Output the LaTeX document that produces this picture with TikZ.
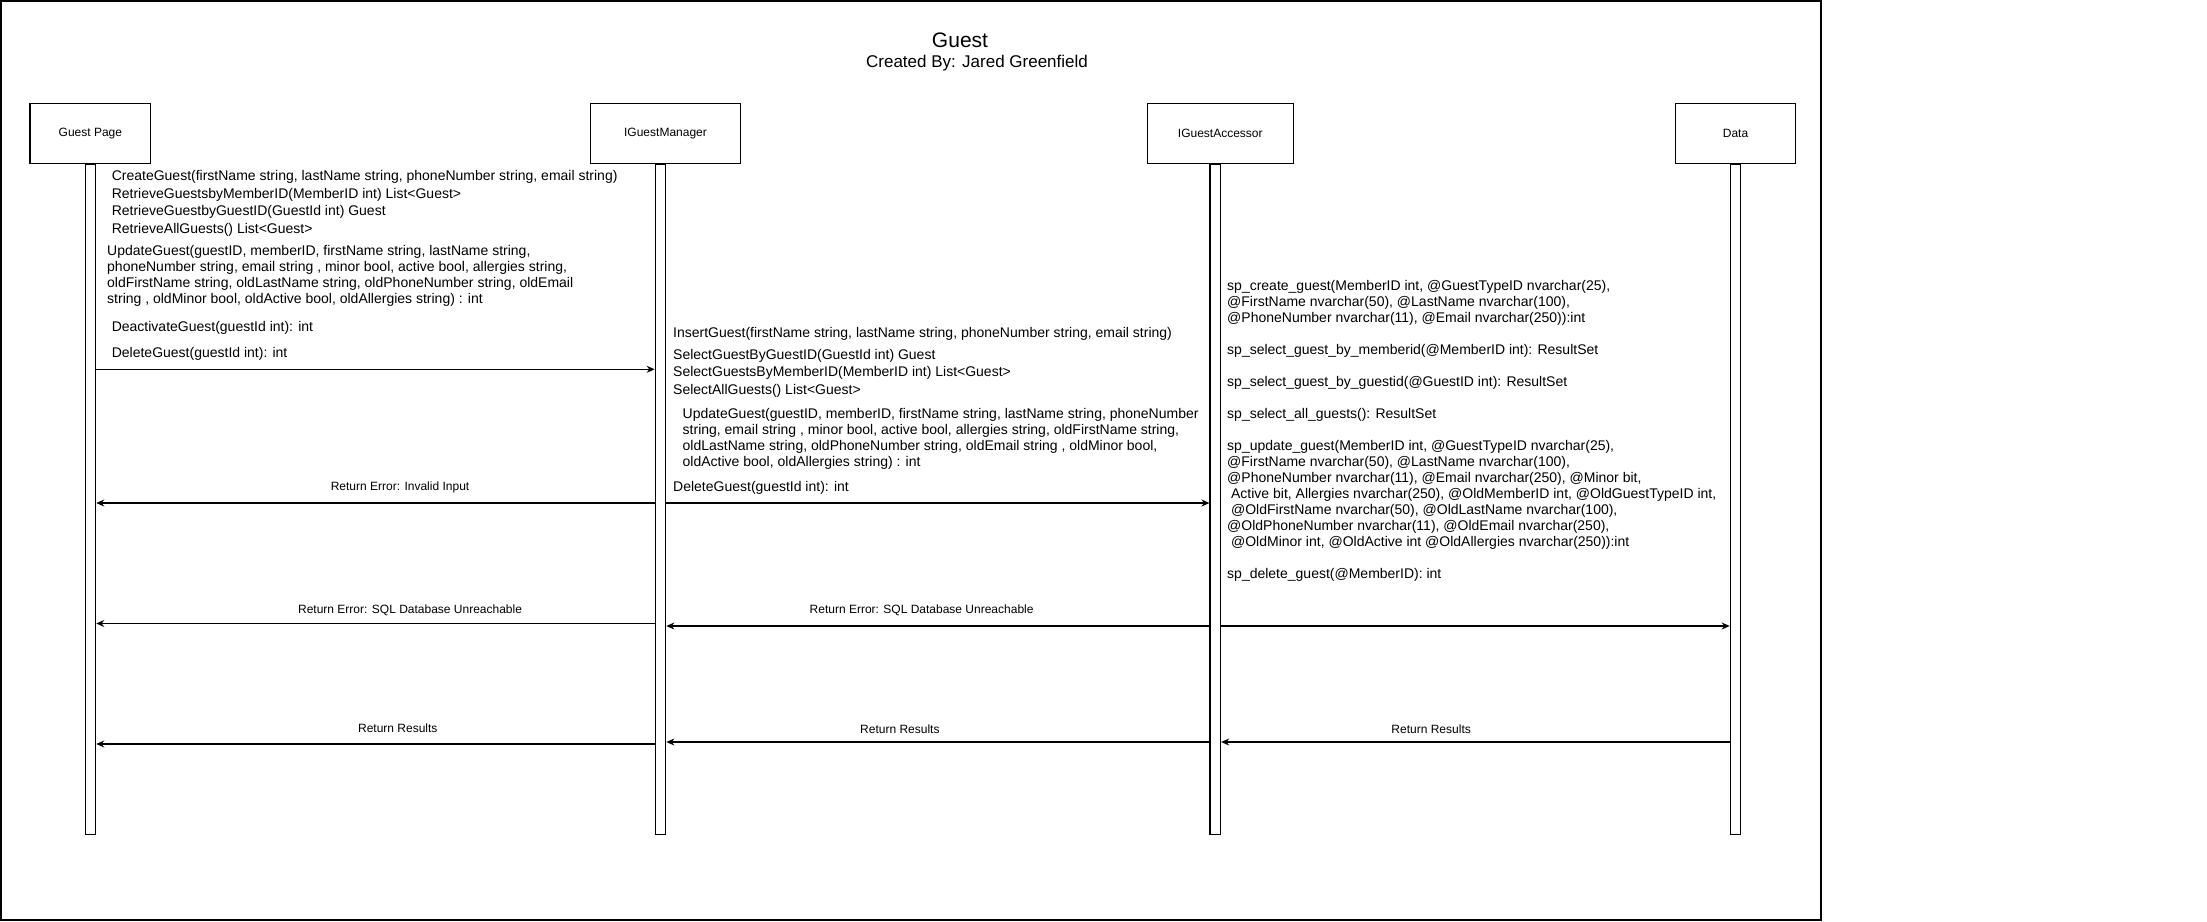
\documentclass[tikz,border=0pt]{standalone}
\usepackage{fontspec}
\setmainfont{Liberation Sans}
\usetikzlibrary{positioning,arrows.meta}

\begin{document}
\begin{tikzpicture}[
		x = 1pt, y = -1pt, % one unit per pixel, y going down
		> = {Stealth[length=8pt,width=7pt]}, % arrow head style
		actor/.style = {draw, line width=1.2pt, minimum height=60pt, font=\fontsize{12}{14}\selectfont},
		life/.style = {draw, line width=1.2pt, minimum width=10.5pt, minimum height=670pt, inner sep=0pt},
		call/.style = {anchor=base west, align=left, inner sep=0pt, font=\fontsize{14}{16}\selectfont}, % base = last line
		list/.style = {call, font=\fontsize{14}{17.5}\selectfont},
		msg/.style = {->, line width=1.2pt},
		lbl/.style = {inner sep=2pt, font=\fontsize{12}{14}\selectfont}
		]
		
		\useasboundingbox (0,0) rectangle (2207,921);
		\draw[line width=1.6pt] (0.8,0.8) rectangle (1821,920);
		
		\node[font=\fontsize{21}{24}\selectfont] (title) at (960,40) {Guest};
		\node[font=\fontsize{17}{20}\selectfont] (author) at (977,63) {Created By: Jared Greenfield};
		
		% participants and lifelines
		\node[actor, minimum width=120.7pt] (gp) at (90.4,133.3) {Guest Page};
		\node[actor, minimum width=150.7pt] (mgr) at (665.5,133.3) {IGuestManager};
		\node[actor, minimum width=146pt] (acc) at (1220.3,133.3) {IGuestAccessor};
		\node[actor, minimum width=120.4pt] (dat) at (1735.5,133.3) {Data};
		
		\node[life, below=0pt of gp] (gpL) {};
		\node[life, below=0pt of mgr, xshift=-5pt] (mgrL) {};
		\node[life, below=0pt of acc, xshift=-5pt] (accL) {};
		\node[life, below=0pt of dat] (datL) {};
		
		% calls from the page
		\node[list] (pageGet) at (111.6,233.2) {CreateGuest(firstName string, lastName string, phoneNumber string, email string)\\
			RetrieveGuestsbyMemberID(MemberID int) List<Guest>\\
			RetrieveGuestbyGuestID(GuestId int) Guest\\
			RetrieveAllGuests() List<Guest>};
		\node[call] (pageUpd) at (107,303.7) {UpdateGuest(guestID, memberID, firstName string, lastName string,\\
			phoneNumber string, email string , minor bool, active bool, allergies string,\\
			oldFirstName string, oldLastName string, oldPhoneNumber string, oldEmail\\
			string , oldMinor bool, oldActive bool, oldAllergies string) : int};
		\node[call] (pageDeact) at (111.6,331.3) {DeactivateGuest(guestId int): int};
		\node[call] (pageDel) at (111.6,357.3) {DeleteGuest(guestId int): int};
		
		% calls from the manager
		\node[call] (mgrIns) at (673,337.3) {InsertGuest(firstName string, lastName string, phoneNumber string, email string)};
		\node[list] (mgrSel) at (673,394) {SelectGuestByGuestID(GuestId int) Guest\\
			SelectGuestsByMemberID(MemberID int) List<Guest>\\
			SelectAllGuests() List<Guest>};
		\node[call] (mgrUpd) at (682.5,466.3) {UpdateGuest(guestID, memberID, firstName string, lastName string, phoneNumber\\
			string, email string , minor bool, active bool, allergies string, oldFirstName string,\\
			oldLastName string, oldPhoneNumber string, oldEmail string , oldMinor bool,\\
			oldActive bool, oldAllergies string) : int};
		\node[call] (mgrDel) at (673,491.3) {DeleteGuest(guestId int): int};
		
		% stored procedures
		\node[call] (procs) at (1227,578) {sp\_create\_guest(MemberID int, @GuestTypeID nvarchar(25),\\
			@FirstName nvarchar(50), @LastName nvarchar(100),\\
			@PhoneNumber nvarchar(11), @Email nvarchar(250)):int\\[16pt]
			sp\_select\_guest\_by\_memberid(@MemberID int): ResultSet\\[16pt]
			sp\_select\_guest\_by\_guestid(@GuestID int): ResultSet\\[16pt]
			sp\_select\_all\_guests(): ResultSet\\[16pt]
			sp\_update\_guest(MemberID int, @GuestTypeID nvarchar(25),\\
			@FirstName nvarchar(50), @LastName nvarchar(100),\\
			@PhoneNumber nvarchar(11), @Email nvarchar(250), @Minor bit,\\
			\ Active bit, Allergies nvarchar(250), @OldMemberID int, @OldGuestTypeID int,\\
			\ @OldFirstName nvarchar(50), @OldLastName nvarchar(100),\\
			@OldPhoneNumber nvarchar(11), @OldEmail nvarchar(250),\\
			\ @OldMinor int, @OldActive int @OldAllergies nvarchar(250)):int\\[16pt]
			sp\_delete\_guest(@MemberID): int};
		
		% message rows
		\coordinate (r1) at (0,369.3);
		\coordinate (r2) at (0,503);
		\coordinate (r3) at (0,623.5);
		\coordinate (r3b) at (0,626);
		\coordinate (r4) at (0,744);
		\coordinate (r4b) at (0,742);
		
		\path[msg]
		(gpL.east |- r1) edge (mgrL.west |- r1)
		(mgrL.west |- r2) edge node[lbl, above=7pt, pos=.456] {Return Error: Invalid Input} (gpL.east |- r2)
		(mgrL.east |- r2) edge (accL.west |- r2)
		(mgrL.west |- r3) edge node[lbl, above=4.7pt, pos=.438] {Return Error: SQL Database Unreachable} (gpL.east |- r3)
		(accL.west |- r3b) edge node[lbl, above=7.2pt, pos=.53] {Return Error: SQL Database Unreachable} (mgrL.east |- r3b)
		(accL.east |- r3b) edge (datL.west |- r3b)
		(mgrL.west |- r4) edge node[lbl, above=8.3pt, pos=.46] {Return Results} (gpL.east |- r4)
		(accL.west |- r4b) edge node[lbl, above=5.8pt, pos=.57] {Return Results} (mgrL.east |- r4b)
		(datL.west |- r4b) edge node[lbl, above=5.9pt, pos=.587] {Return Results} (accL.east |- r4b);
	\end{tikzpicture}
\end{document}
